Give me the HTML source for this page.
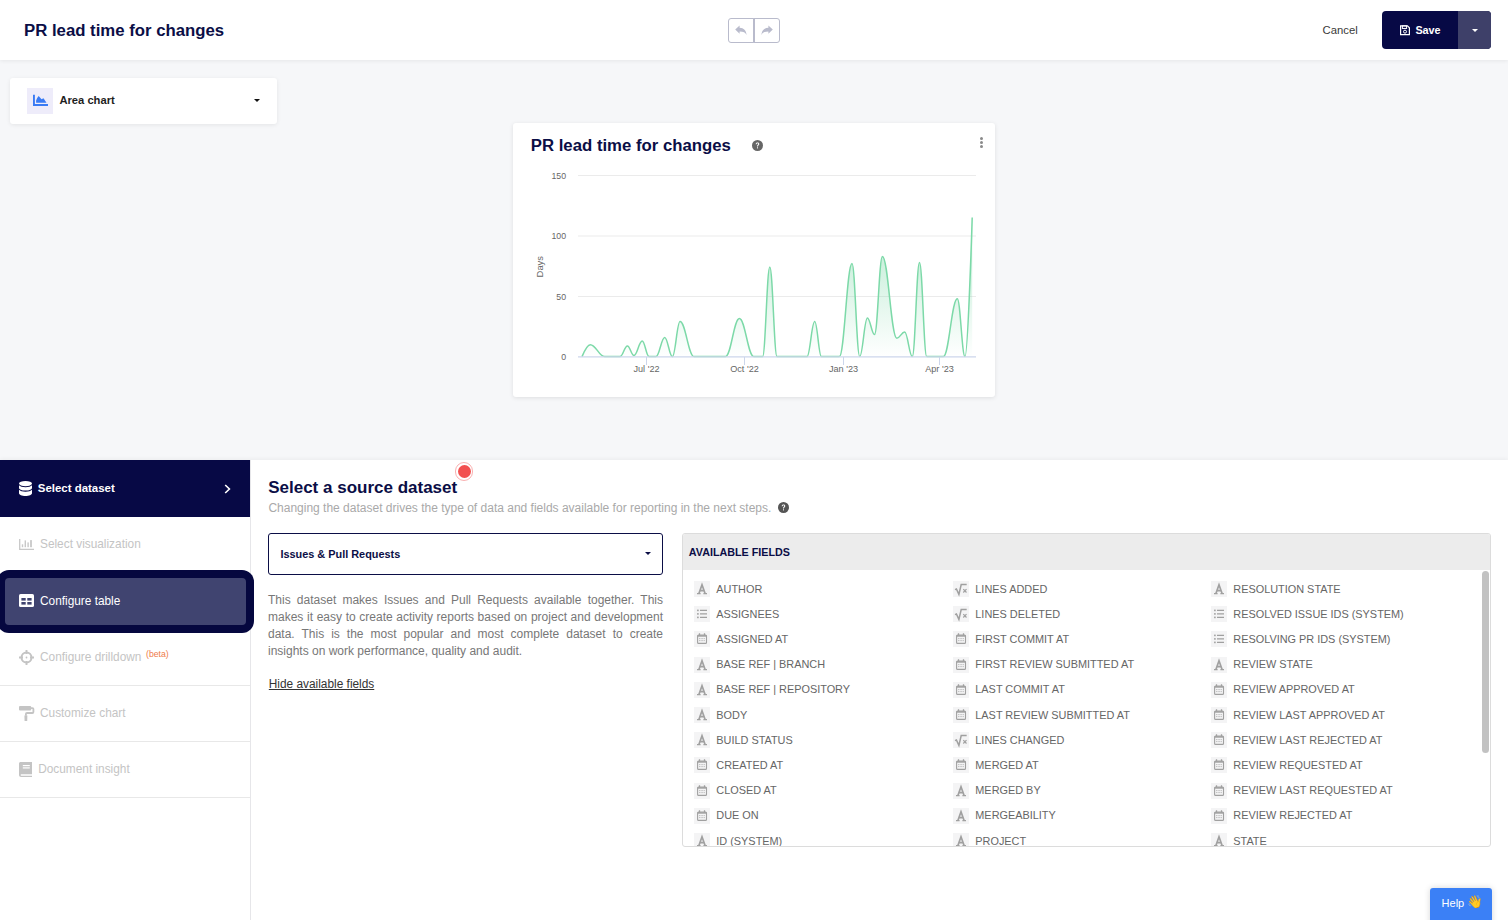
<!DOCTYPE html>
<html><head><meta charset="utf-8">
<style>
*{box-sizing:border-box;margin:0;padding:0}
html,body{width:1508px;height:920px;overflow:hidden;background:#f6f7f9;font-family:"Liberation Sans",sans-serif;position:relative}
.a{position:absolute;white-space:nowrap;line-height:1}
svg{position:absolute;overflow:visible}
</style></head><body>
<!-- HEADER -->
<div class="a" style="left:0;top:0;width:1508px;height:60px;background:#fff;box-shadow:0 1px 4px rgba(0,0,0,0.07)"></div>
<div class="a" style="left:24px;top:22.5px;font-size:16.75px;font-weight:bold;color:#0b0e46">PR lead time for changes</div>
<div class="a" style="left:728px;top:18px;width:27px;height:25px;border:1px solid #b9bbcc;border-radius:3px 0 0 3px;background:#fff"></div>
<div class="a" style="left:753px;top:18px;width:27px;height:25px;border:1px solid #b9bbcc;border-radius:0 3px 3px 0;background:#fff"></div>
<div class="a" style="left:754px;top:18px;width:1px;height:25px;background:#b9bbcc"></div>
<svg style="left:735px;top:25px" width="12" height="10" viewBox="0 0 12 10"><path d="M0.2,4.6 L4.6,0.5 L4.6,2.7 C8.8,2.9 11.2,5.4 11.6,10 C10.6,7.6 8.4,6.5 4.6,6.5 L4.6,8.7 Z" fill="#b9bbcc"/></svg>
<svg style="left:761px;top:25px" width="12" height="10" viewBox="0 0 12 10"><path d="M11.8,4.6 L7.4,0.5 L7.4,2.7 C3.2,2.9 0.8,5.4 0.4,10 C1.4,7.6 3.6,6.5 7.4,6.5 L7.4,8.7 Z" fill="#b9bbcc"/></svg>
<div class="a" style="left:1322.6px;top:25.4px;font-size:11.3px;color:#3a3a3a">Cancel</div>
<div class="a" style="left:1382px;top:11px;width:109px;height:38px;border-radius:4px;background:#070945;overflow:hidden"><div class="a" style="left:76px;top:0;width:33px;height:38px;background:#3e4069"></div></div>
<svg style="left:1400px;top:25.3px" width="10" height="10.5" viewBox="0 0 10 10"><path d="M0.6,0.6 H7.4 L9.4,2.6 V9.4 H0.6 Z" fill="none" stroke="#fff" stroke-width="1.2"/><rect x="2.4" y="0.6" width="4.2" height="2.6" fill="none" stroke="#fff" stroke-width="1"/><circle cx="5" cy="6.4" r="1.5" fill="none" stroke="#fff" stroke-width="1"/></svg>
<div class="a" style="left:1415.4px;top:24.9px;font-size:10.8px;font-weight:bold;color:#fff">Save</div>
<svg style="left:1472px;top:29px" width="6" height="3" viewBox="0 0 6 3"><path d="M0,0 H6 L3,3 Z" fill="#fff"/></svg>

<!-- CHART TYPE CARD -->
<div class="a" style="left:10px;top:78px;width:267px;height:46px;background:#fff;border-radius:3px;box-shadow:0 1px 4px rgba(0,0,0,0.08)"></div>
<div class="a" style="left:27px;top:88px;width:26px;height:26px;background:#eeecfa"></div>
<svg style="left:33px;top:94px" width="16" height="12" viewBox="0 0 16 12"><path d="M0,0.7 H1.9 V10.1 H15 V12 H0 Z" fill="#3a7bf4"/><path d="M3.1,8.8 V6.4 Q3.6,4.4 5.7,2.1 L8.5,5.3 L10.5,4.2 L13.5,8.8 Z" fill="#3a7bf4"/></svg>
<div class="a" style="left:59.4px;top:94.6px;font-size:11.2px;font-weight:bold;color:#1e1e1e">Area chart</div>
<svg style="left:254px;top:99px" width="6" height="3" viewBox="0 0 6 3"><path d="M0,0 H6 L3,3 Z" fill="#111"/></svg>

<!-- CHART CARD -->
<div class="a" style="left:513px;top:123px;width:482px;height:274px;background:#fff;border-radius:3px;box-shadow:0 1px 4px rgba(0,0,0,0.1)"></div>
<div class="a" style="left:530.8px;top:138.2px;font-size:16.75px;font-weight:bold;color:#0b0e46">PR lead time for changes</div>
<svg style="left:751.5px;top:140px" width="11" height="11" viewBox="0 0 11 11"><circle cx="5.5" cy="5.5" r="5.5" fill="#666"/><path d="M3.7,4.2 C3.7,3 4.5,2.4 5.5,2.4 C6.6,2.4 7.3,3.1 7.3,4 C7.3,5.1 6,5.3 6,6.3 V6.6 H5 V6.2 C5,4.9 6.2,4.8 6.2,4 C6.2,3.6 5.9,3.3 5.5,3.3 C5,3.3 4.7,3.7 4.7,4.2 Z" fill="#fff"/><rect x="5" y="7.3" width="1" height="1.1" fill="#fff"/></svg>
<div class="a" style="left:979.8px;top:137px;width:3px;height:3px;border-radius:50%;background:#8a8a8a"></div>
<div class="a" style="left:979.8px;top:141px;width:3px;height:3px;border-radius:50%;background:#8a8a8a"></div>
<div class="a" style="left:979.8px;top:145px;width:3px;height:3px;border-radius:50%;background:#8a8a8a"></div>
<svg style="left:0;top:0" width="1508" height="920">
<defs><linearGradient id="g" x1="0" y1="217" x2="0" y2="357" gradientUnits="userSpaceOnUse"><stop offset="0" stop-color="#7dd8a8" stop-opacity="0.55"/><stop offset="1" stop-color="#7dd8a8" stop-opacity="0"/></linearGradient></defs>
<g stroke="#ebebeb" stroke-width="1"><path d="M578,175.5 H976 M578,236 H976 M578,296.5 H976"/></g>
<path d="M582.0,356.6 C582.0,356.6 587.0,344.7 590.3,344.7 C596.1,344.7 598.9,356.6 604.7,356.6 C610.8,356.6 613.9,356.6 620.0,356.6 C623.0,356.6 624.4,345.9 627.4,345.9 C630.0,345.9 631.4,355.5 634.0,355.5 C637.3,355.5 638.9,341.0 642.2,341.0 C644.9,341.0 646.3,356.6 649.0,356.6 C651.8,356.6 653.2,356.6 656.0,356.6 C659.5,356.6 661.2,337.5 664.7,337.5 C667.8,337.5 669.3,356.6 672.4,356.6 C675.4,356.6 677.0,321.5 680.0,321.5 C685.6,321.5 688.4,356.6 694.0,356.6 C706.6,356.6 712.9,356.6 725.5,356.6 C731.1,356.6 733.8,318.4 739.4,318.4 C745.1,318.4 748.0,356.6 753.7,356.6 C757.3,356.6 759.0,356.6 762.6,356.6 C765.5,356.6 766.9,267.0 769.8,267.0 C772.7,267.0 774.1,356.6 777.0,356.6 C789.0,356.6 795.0,356.6 807.0,356.6 C810.1,356.6 811.6,321.5 814.7,321.5 C817.4,321.5 818.7,356.6 821.4,356.6 C828.6,356.6 832.2,356.6 839.4,356.6 C844.4,356.6 847.0,263.6 852.0,263.6 C855.1,263.6 856.6,356.6 859.7,356.6 C862.8,356.6 864.3,317.9 867.4,317.9 C870.2,317.9 871.7,334.6 874.5,334.6 C877.7,334.6 879.2,256.4 882.4,256.4 C888.2,256.4 891.0,338.2 896.8,338.2 C900.0,338.2 901.5,332.0 904.7,332.0 C907.7,332.0 909.3,356.6 912.3,356.6 C915.2,356.6 916.6,262.4 919.5,262.4 C922.4,262.4 923.8,356.6 926.7,356.6 C933.4,356.6 936.7,356.6 943.4,356.6 C949.0,356.6 951.7,298.8 957.3,298.8 C960.4,298.8 961.9,356.6 965.0,356.6 C967.9,356.6 972.2,217.4 972.2,217.4 L972.2,356.6 L582.0,356.6 Z" fill="url(#g)"/>
<path d="M582.0,356.6 C582.0,356.6 587.0,344.7 590.3,344.7 C596.1,344.7 598.9,356.6 604.7,356.6 C610.8,356.6 613.9,356.6 620.0,356.6 C623.0,356.6 624.4,345.9 627.4,345.9 C630.0,345.9 631.4,355.5 634.0,355.5 C637.3,355.5 638.9,341.0 642.2,341.0 C644.9,341.0 646.3,356.6 649.0,356.6 C651.8,356.6 653.2,356.6 656.0,356.6 C659.5,356.6 661.2,337.5 664.7,337.5 C667.8,337.5 669.3,356.6 672.4,356.6 C675.4,356.6 677.0,321.5 680.0,321.5 C685.6,321.5 688.4,356.6 694.0,356.6 C706.6,356.6 712.9,356.6 725.5,356.6 C731.1,356.6 733.8,318.4 739.4,318.4 C745.1,318.4 748.0,356.6 753.7,356.6 C757.3,356.6 759.0,356.6 762.6,356.6 C765.5,356.6 766.9,267.0 769.8,267.0 C772.7,267.0 774.1,356.6 777.0,356.6 C789.0,356.6 795.0,356.6 807.0,356.6 C810.1,356.6 811.6,321.5 814.7,321.5 C817.4,321.5 818.7,356.6 821.4,356.6 C828.6,356.6 832.2,356.6 839.4,356.6 C844.4,356.6 847.0,263.6 852.0,263.6 C855.1,263.6 856.6,356.6 859.7,356.6 C862.8,356.6 864.3,317.9 867.4,317.9 C870.2,317.9 871.7,334.6 874.5,334.6 C877.7,334.6 879.2,256.4 882.4,256.4 C888.2,256.4 891.0,338.2 896.8,338.2 C900.0,338.2 901.5,332.0 904.7,332.0 C907.7,332.0 909.3,356.6 912.3,356.6 C915.2,356.6 916.6,262.4 919.5,262.4 C922.4,262.4 923.8,356.6 926.7,356.6 C933.4,356.6 936.7,356.6 943.4,356.6 C949.0,356.6 951.7,298.8 957.3,298.8 C960.4,298.8 961.9,356.6 965.0,356.6 C967.9,356.6 972.2,217.4 972.2,217.4" fill="none" stroke="#7cd9a8" stroke-width="1.5"/>
<path d="M578,356.8 H976" stroke="#ccd6eb" stroke-width="1.2"/>
<path d="M646.5,357 V365 M744.5,357 V365 M843.5,357 V365 M939.5,357 V365" stroke="#ccd6eb" stroke-width="1"/>
</svg>
<div class="a" style="left:550.5px;top:171.6px;width:15.6px;text-align:right;font-size:8.75px;color:#666">150</div>
<div class="a" style="left:540.5px;top:232.1px;width:25.6px;text-align:right;font-size:8.75px;color:#666">100</div>
<div class="a" style="left:540.5px;top:292.6px;width:25.6px;text-align:right;font-size:8.75px;color:#666">50</div>
<div class="a" style="left:540.5px;top:353px;width:25.6px;text-align:right;font-size:8.75px;color:#666">0</div>
<div class="a" style="left:528.5px;top:261.5px;width:22px;text-align:center;font-size:9.4px;color:#666;transform:rotate(-90deg)">Days</div>
<div class="a" style="left:626.5px;top:364.5px;width:40px;text-align:center;font-size:9.15px;color:#666">Jul '22</div>
<div class="a" style="left:724.5px;top:364.5px;width:40px;text-align:center;font-size:9.15px;color:#666">Oct '22</div>
<div class="a" style="left:823.5px;top:364.5px;width:40px;text-align:center;font-size:9.15px;color:#666">Jan '23</div>
<div class="a" style="left:919.5px;top:364.5px;width:40px;text-align:center;font-size:9.15px;color:#666">Apr '23</div>

<!-- BOTTOM PANEL -->
<div class="a" style="left:0;top:460px;width:1508px;height:460px;background:#fff;box-shadow:0 -1px 4px rgba(0,0,0,0.05)"></div>
<div class="a" style="left:250px;top:460px;width:1px;height:460px;background:#e6e6e9"></div>
<!-- sidebar -->
<div class="a" style="left:0;top:460px;width:250px;height:57px;background:#070945"></div>
<svg style="left:19px;top:481px" width="13" height="15" viewBox="0 0 13 15"><ellipse cx="6.5" cy="2.6" rx="6.5" ry="2.6" fill="#fff"/><path d="M0,4.3 C1,5.6 3.6,6.3 6.5,6.3 C9.4,6.3 12,5.6 13,4.3 V7 C13,8.5 10.1,9.6 6.5,9.6 C2.9,9.6 0,8.5 0,7 Z" fill="#fff"/><path d="M0,8.8 C1,10.1 3.6,10.8 6.5,10.8 C9.4,10.8 12,10.1 13,8.8 V12.3 C13,13.8 10.1,15 6.5,15 C2.9,15 0,13.8 0,12.3 Z" fill="#fff"/></svg>
<div class="a" style="left:37.8px;top:482.6px;font-size:11.45px;font-weight:bold;color:#fff">Select dataset</div>
<svg style="left:224px;top:484px" width="7" height="10" viewBox="0 0 7 10"><path d="M1.2,1 L5.4,5 L1.2,9" fill="none" stroke="#fff" stroke-width="1.6"/></svg>

<svg style="left:19px;top:539px" width="15" height="11" viewBox="0 0 15 11"><path d="M0.7,0 V10.3 H15" fill="none" stroke="#c8c8c8" stroke-width="1.3"/><rect x="2.8" y="5.3" width="1.4" height="2.9" fill="#c8c8c8"/><rect x="5.6" y="1.4" width="1.4" height="6.8" fill="#c8c8c8"/><rect x="8.4" y="3.4" width="1.4" height="4.8" fill="#c8c8c8"/><rect x="11.1" y="1.1" width="1.8" height="7.1" fill="#c8c8c8"/></svg>
<div class="a" style="left:40px;top:538.8px;font-size:11.85px;color:#c4c4c4">Select visualization</div>

<div class="a" style="left:-3px;top:570px;width:257px;height:63px;background:#05073f;border-radius:12px"></div>
<div class="a" style="left:5px;top:578px;width:241px;height:47px;background:#404470;border-radius:4px"></div>
<svg style="left:19px;top:594px" width="15" height="13" viewBox="0 0 15 13"><rect x="0" y="0" width="15" height="13" rx="1.6" fill="#fff"/><rect x="2.4" y="4" width="4.3" height="2.6" fill="#404470"/><rect x="8.3" y="4" width="4.3" height="2.6" fill="#404470"/><rect x="2.4" y="8" width="4.3" height="2.6" fill="#404470"/><rect x="8.3" y="8" width="4.3" height="2.6" fill="#404470"/></svg>
<div class="a" style="left:40px;top:595.9px;font-size:11.85px;color:#fff">Configure table</div>

<svg style="left:19px;top:650px" width="15" height="15" viewBox="0 0 15 15"><circle cx="7.5" cy="7.5" r="5" fill="none" stroke="#c4c4c4" stroke-width="2"/><path d="M7.5,0 V4 M7.5,11 V15 M0,7.5 H4 M11,7.5 H15" stroke="#c4c4c4" stroke-width="1.9"/><circle cx="7.5" cy="7.5" r="0.9" fill="#c4c4c4"/></svg>
<div class="a" style="left:40px;top:651.7px;font-size:11.85px;color:#c4c4c4">Configure drilldown</div>
<div class="a" style="left:146px;top:650px;font-size:8.7px;color:#ef7a4a">(beta)</div>
<div class="a" style="left:0;top:685px;width:250px;height:1px;background:#e8e8e8"></div>

<svg style="left:19px;top:706px" width="15" height="15" viewBox="0 0 15 15"><rect x="0" y="0" width="12.2" height="4.4" rx="1" fill="#c4c4c4"/><path d="M12,2.1 H13.6 Q14.4,2.1 14.4,3 V6 Q14.4,7 13.4,7 H8 Q6.9,7 6.9,8 V9.8" fill="none" stroke="#c4c4c4" stroke-width="1.8"/><path d="M5.4,9.6 H8.4 L8.2,15 H5.6 Z" fill="#c4c4c4"/></svg>
<div class="a" style="left:40px;top:708.2px;font-size:11.85px;color:#c4c4c4">Customize chart</div>
<div class="a" style="left:0;top:741px;width:250px;height:1px;background:#e8e8e8"></div>

<svg style="left:19px;top:762px" width="13" height="15" viewBox="0 0 13 15"><path d="M1.6,0 H13 V12.2 H2.4 C1.9,12.2 1.6,12.6 1.6,13.1 C1.6,13.5 1.9,13.8 2.4,13.8 H13 V15 H2 C0.9,15 0,14.1 0,13 V1.6 C0,0.7 0.7,0 1.6,0 Z" fill="#c4c4c4"/><rect x="3.8" y="3" width="7" height="1.2" fill="#fff"/><rect x="3.8" y="5.3" width="7" height="1.2" fill="#fff"/></svg>
<div class="a" style="left:38.2px;top:764px;font-size:11.85px;color:#c4c4c4">Document insight</div>
<div class="a" style="left:0;top:797px;width:250px;height:1px;background:#e8e8e8"></div>

<!-- main -->
<div class="a" style="left:268.2px;top:478.8px;font-size:17px;font-weight:bold;color:#0b0e46">Select a source dataset</div>
<div class="a" style="left:454.6px;top:462.2px;width:18.8px;height:18.8px;border-radius:50%;border:1px solid rgba(240,80,80,0.45)"></div>
<div class="a" style="left:457.5px;top:465px;width:13px;height:13px;border-radius:50%;background:#f25050"></div>
<div class="a" style="left:268.4px;top:501.7px;font-size:12px;color:#a9a9a9">Changing the dataset drives the type of data and fields available for reporting in the next steps.</div>
<svg style="left:778.4px;top:501.6px" width="11" height="11" viewBox="0 0 11 11"><circle cx="5.5" cy="5.5" r="5.5" fill="#555"/><path d="M3.7,4.2 C3.7,3 4.5,2.4 5.5,2.4 C6.6,2.4 7.3,3.1 7.3,4 C7.3,5.1 6,5.3 6,6.3 V6.6 H5 V6.2 C5,4.9 6.2,4.8 6.2,4 C6.2,3.6 5.9,3.3 5.5,3.3 C5,3.3 4.7,3.7 4.7,4.2 Z" fill="#fff"/><rect x="5" y="7.3" width="1" height="1.1" fill="#fff"/></svg>

<div class="a" style="left:268px;top:533px;width:395px;height:42px;border:1.5px solid #0b0e46;border-radius:3px;background:#fff"></div>
<div class="a" style="left:280.4px;top:548.9px;font-size:10.9px;font-weight:bold;color:#0b0e46">Issues &amp; Pull Requests</div>
<svg style="left:645px;top:552px" width="6" height="3" viewBox="0 0 6 3"><path d="M0,0 H6 L3,3 Z" fill="#0b0e46"/></svg>

<div class="a" style="left:268px;top:591.8px;width:395px;font-size:12px;line-height:16.95px;color:#777;text-align:justify;white-space:normal">This dataset makes Issues and Pull Requests available together. This makes it easy to create activity reports based on project and development data. This is the most popular and most complete dataset to create insights on work performance, quality and audit.</div>
<div class="a" style="left:268.8px;top:678.8px;font-size:11.86px;color:#333;text-decoration:underline">Hide available fields</div>

<div class="a" style="left:682px;top:533px;width:809px;height:314px;border:1px solid #dcdcdc;border-radius:3px;background:#fff;overflow:hidden">
  <div class="a" style="left:0;top:0;width:807px;height:36px;background:#ececec"></div>
</div>
<div class="a" style="left:688.8px;top:546.8px;font-size:10.75px;font-weight:bold;color:#0b0e46">AVAILABLE FIELDS</div>
<div class="a" style="left:1482px;top:571px;width:7px;height:182px;border-radius:4px;background:#c2c2c2"></div>
<div class="a" style="left:683px;top:570px;width:798px;height:276px;overflow:hidden">
<div class="a" style="left:11px;top:11.0px;width:16px;height:16px;background:#f4f4f5"></div><svg style="left:11px;top:11.0px" width="16" height="16" viewBox="0 0 16 16"><path d="M5,12.3 L8,3.8 L11,12.3 M6.2,9.6 H9.9" fill="none" stroke="#a0a0a0" stroke-width="1.7"/><path d="M3,12.6 H6.6 M9.4,12.6 H13" stroke="#a0a0a0" stroke-width="1.1"/></svg><div class="a" style="left:33.3px;top:13.6px;font-size:10.9px;color:#666">AUTHOR</div>
<div class="a" style="left:11px;top:36.2px;width:16px;height:16px;background:#f4f4f5"></div><svg style="left:11px;top:36.2px" width="16" height="16" viewBox="0 0 16 16"><rect x="3.1" y="3.6" width="1.6" height="1.6" fill="#a0a0a0"/><rect x="3.1" y="7.1" width="1.6" height="1.6" fill="#a0a0a0"/><rect x="3.1" y="10.6" width="1.6" height="1.6" fill="#a0a0a0"/><path d="M6,4.4 H13 M6,7.9 H13 M6,11.4 H13" stroke="#a0a0a0" stroke-width="1.3"/></svg><div class="a" style="left:33.3px;top:38.8px;font-size:10.9px;color:#666">ASSIGNEES</div>
<div class="a" style="left:11px;top:61.4px;width:16px;height:16px;background:#f4f4f5"></div><svg style="left:11px;top:61.4px" width="16" height="16" viewBox="0 0 16 16"><rect x="3.6" y="4" width="8.9" height="8.4" rx="1" fill="none" stroke="#a0a0a0" stroke-width="1.1"/><path d="M3.6,4.9 H12.5" stroke="#a0a0a0" stroke-width="1.6"/><path d="M5.5,2.3 V4.6 M10.5,2.3 V4.6" stroke="#a0a0a0" stroke-width="1.3"/><path d="M5,7.6 H11 M5,9.6 H11" stroke="#b8b8b8" stroke-width="0.9" stroke-dasharray="1.1,0.5"/></svg><div class="a" style="left:33.3px;top:64.0px;font-size:10.9px;color:#666">ASSIGNED AT</div>
<div class="a" style="left:11px;top:86.6px;width:16px;height:16px;background:#f4f4f5"></div><svg style="left:11px;top:86.6px" width="16" height="16" viewBox="0 0 16 16"><path d="M5,12.3 L8,3.8 L11,12.3 M6.2,9.6 H9.9" fill="none" stroke="#a0a0a0" stroke-width="1.7"/><path d="M3,12.6 H6.6 M9.4,12.6 H13" stroke="#a0a0a0" stroke-width="1.1"/></svg><div class="a" style="left:33.3px;top:89.2px;font-size:10.9px;color:#666">BASE REF | BRANCH</div>
<div class="a" style="left:11px;top:111.8px;width:16px;height:16px;background:#f4f4f5"></div><svg style="left:11px;top:111.8px" width="16" height="16" viewBox="0 0 16 16"><path d="M5,12.3 L8,3.8 L11,12.3 M6.2,9.6 H9.9" fill="none" stroke="#a0a0a0" stroke-width="1.7"/><path d="M3,12.6 H6.6 M9.4,12.6 H13" stroke="#a0a0a0" stroke-width="1.1"/></svg><div class="a" style="left:33.3px;top:114.4px;font-size:10.9px;color:#666">BASE REF | REPOSITORY</div>
<div class="a" style="left:11px;top:137.0px;width:16px;height:16px;background:#f4f4f5"></div><svg style="left:11px;top:137.0px" width="16" height="16" viewBox="0 0 16 16"><path d="M5,12.3 L8,3.8 L11,12.3 M6.2,9.6 H9.9" fill="none" stroke="#a0a0a0" stroke-width="1.7"/><path d="M3,12.6 H6.6 M9.4,12.6 H13" stroke="#a0a0a0" stroke-width="1.1"/></svg><div class="a" style="left:33.3px;top:139.6px;font-size:10.9px;color:#666">BODY</div>
<div class="a" style="left:11px;top:162.2px;width:16px;height:16px;background:#f4f4f5"></div><svg style="left:11px;top:162.2px" width="16" height="16" viewBox="0 0 16 16"><path d="M5,12.3 L8,3.8 L11,12.3 M6.2,9.6 H9.9" fill="none" stroke="#a0a0a0" stroke-width="1.7"/><path d="M3,12.6 H6.6 M9.4,12.6 H13" stroke="#a0a0a0" stroke-width="1.1"/></svg><div class="a" style="left:33.3px;top:164.8px;font-size:10.9px;color:#666">BUILD STATUS</div>
<div class="a" style="left:11px;top:187.4px;width:16px;height:16px;background:#f4f4f5"></div><svg style="left:11px;top:187.4px" width="16" height="16" viewBox="0 0 16 16"><rect x="3.6" y="4" width="8.9" height="8.4" rx="1" fill="none" stroke="#a0a0a0" stroke-width="1.1"/><path d="M3.6,4.9 H12.5" stroke="#a0a0a0" stroke-width="1.6"/><path d="M5.5,2.3 V4.6 M10.5,2.3 V4.6" stroke="#a0a0a0" stroke-width="1.3"/><path d="M5,7.6 H11 M5,9.6 H11" stroke="#b8b8b8" stroke-width="0.9" stroke-dasharray="1.1,0.5"/></svg><div class="a" style="left:33.3px;top:190.0px;font-size:10.9px;color:#666">CREATED AT</div>
<div class="a" style="left:11px;top:212.6px;width:16px;height:16px;background:#f4f4f5"></div><svg style="left:11px;top:212.6px" width="16" height="16" viewBox="0 0 16 16"><rect x="3.6" y="4" width="8.9" height="8.4" rx="1" fill="none" stroke="#a0a0a0" stroke-width="1.1"/><path d="M3.6,4.9 H12.5" stroke="#a0a0a0" stroke-width="1.6"/><path d="M5.5,2.3 V4.6 M10.5,2.3 V4.6" stroke="#a0a0a0" stroke-width="1.3"/><path d="M5,7.6 H11 M5,9.6 H11" stroke="#b8b8b8" stroke-width="0.9" stroke-dasharray="1.1,0.5"/></svg><div class="a" style="left:33.3px;top:215.2px;font-size:10.9px;color:#666">CLOSED AT</div>
<div class="a" style="left:11px;top:237.8px;width:16px;height:16px;background:#f4f4f5"></div><svg style="left:11px;top:237.8px" width="16" height="16" viewBox="0 0 16 16"><rect x="3.6" y="4" width="8.9" height="8.4" rx="1" fill="none" stroke="#a0a0a0" stroke-width="1.1"/><path d="M3.6,4.9 H12.5" stroke="#a0a0a0" stroke-width="1.6"/><path d="M5.5,2.3 V4.6 M10.5,2.3 V4.6" stroke="#a0a0a0" stroke-width="1.3"/><path d="M5,7.6 H11 M5,9.6 H11" stroke="#b8b8b8" stroke-width="0.9" stroke-dasharray="1.1,0.5"/></svg><div class="a" style="left:33.3px;top:240.4px;font-size:10.9px;color:#666">DUE ON</div>
<div class="a" style="left:11px;top:263.0px;width:16px;height:16px;background:#f4f4f5"></div><svg style="left:11px;top:263.0px" width="16" height="16" viewBox="0 0 16 16"><path d="M5,12.3 L8,3.8 L11,12.3 M6.2,9.6 H9.9" fill="none" stroke="#a0a0a0" stroke-width="1.7"/><path d="M3,12.6 H6.6 M9.4,12.6 H13" stroke="#a0a0a0" stroke-width="1.1"/></svg><div class="a" style="left:33.3px;top:265.6px;font-size:10.9px;color:#666">ID (SYSTEM)</div>
<div class="a" style="left:270px;top:11.0px;width:16px;height:16px;background:#f4f4f5"></div><svg style="left:270px;top:11.0px" width="16" height="16" viewBox="0 0 16 16"><path d="M2,8.6 L3.4,8 L5.9,13.4 L8.2,3.6 H13.7" fill="none" stroke="#a0a0a0" stroke-width="1.5"/><path d="M10.3,8.2 L13.5,11.5 M13.5,8.2 L10.3,11.5" stroke="#a0a0a0" stroke-width="1.2"/></svg><div class="a" style="left:292.3px;top:13.6px;font-size:10.9px;color:#666">LINES ADDED</div>
<div class="a" style="left:270px;top:36.2px;width:16px;height:16px;background:#f4f4f5"></div><svg style="left:270px;top:36.2px" width="16" height="16" viewBox="0 0 16 16"><path d="M2,8.6 L3.4,8 L5.9,13.4 L8.2,3.6 H13.7" fill="none" stroke="#a0a0a0" stroke-width="1.5"/><path d="M10.3,8.2 L13.5,11.5 M13.5,8.2 L10.3,11.5" stroke="#a0a0a0" stroke-width="1.2"/></svg><div class="a" style="left:292.3px;top:38.8px;font-size:10.9px;color:#666">LINES DELETED</div>
<div class="a" style="left:270px;top:61.4px;width:16px;height:16px;background:#f4f4f5"></div><svg style="left:270px;top:61.4px" width="16" height="16" viewBox="0 0 16 16"><rect x="3.6" y="4" width="8.9" height="8.4" rx="1" fill="none" stroke="#a0a0a0" stroke-width="1.1"/><path d="M3.6,4.9 H12.5" stroke="#a0a0a0" stroke-width="1.6"/><path d="M5.5,2.3 V4.6 M10.5,2.3 V4.6" stroke="#a0a0a0" stroke-width="1.3"/><path d="M5,7.6 H11 M5,9.6 H11" stroke="#b8b8b8" stroke-width="0.9" stroke-dasharray="1.1,0.5"/></svg><div class="a" style="left:292.3px;top:64.0px;font-size:10.9px;color:#666">FIRST COMMIT AT</div>
<div class="a" style="left:270px;top:86.6px;width:16px;height:16px;background:#f4f4f5"></div><svg style="left:270px;top:86.6px" width="16" height="16" viewBox="0 0 16 16"><rect x="3.6" y="4" width="8.9" height="8.4" rx="1" fill="none" stroke="#a0a0a0" stroke-width="1.1"/><path d="M3.6,4.9 H12.5" stroke="#a0a0a0" stroke-width="1.6"/><path d="M5.5,2.3 V4.6 M10.5,2.3 V4.6" stroke="#a0a0a0" stroke-width="1.3"/><path d="M5,7.6 H11 M5,9.6 H11" stroke="#b8b8b8" stroke-width="0.9" stroke-dasharray="1.1,0.5"/></svg><div class="a" style="left:292.3px;top:89.2px;font-size:10.9px;color:#666">FIRST REVIEW SUBMITTED AT</div>
<div class="a" style="left:270px;top:111.8px;width:16px;height:16px;background:#f4f4f5"></div><svg style="left:270px;top:111.8px" width="16" height="16" viewBox="0 0 16 16"><rect x="3.6" y="4" width="8.9" height="8.4" rx="1" fill="none" stroke="#a0a0a0" stroke-width="1.1"/><path d="M3.6,4.9 H12.5" stroke="#a0a0a0" stroke-width="1.6"/><path d="M5.5,2.3 V4.6 M10.5,2.3 V4.6" stroke="#a0a0a0" stroke-width="1.3"/><path d="M5,7.6 H11 M5,9.6 H11" stroke="#b8b8b8" stroke-width="0.9" stroke-dasharray="1.1,0.5"/></svg><div class="a" style="left:292.3px;top:114.4px;font-size:10.9px;color:#666">LAST COMMIT AT</div>
<div class="a" style="left:270px;top:137.0px;width:16px;height:16px;background:#f4f4f5"></div><svg style="left:270px;top:137.0px" width="16" height="16" viewBox="0 0 16 16"><rect x="3.6" y="4" width="8.9" height="8.4" rx="1" fill="none" stroke="#a0a0a0" stroke-width="1.1"/><path d="M3.6,4.9 H12.5" stroke="#a0a0a0" stroke-width="1.6"/><path d="M5.5,2.3 V4.6 M10.5,2.3 V4.6" stroke="#a0a0a0" stroke-width="1.3"/><path d="M5,7.6 H11 M5,9.6 H11" stroke="#b8b8b8" stroke-width="0.9" stroke-dasharray="1.1,0.5"/></svg><div class="a" style="left:292.3px;top:139.6px;font-size:10.9px;color:#666">LAST REVIEW SUBMITTED AT</div>
<div class="a" style="left:270px;top:162.2px;width:16px;height:16px;background:#f4f4f5"></div><svg style="left:270px;top:162.2px" width="16" height="16" viewBox="0 0 16 16"><path d="M2,8.6 L3.4,8 L5.9,13.4 L8.2,3.6 H13.7" fill="none" stroke="#a0a0a0" stroke-width="1.5"/><path d="M10.3,8.2 L13.5,11.5 M13.5,8.2 L10.3,11.5" stroke="#a0a0a0" stroke-width="1.2"/></svg><div class="a" style="left:292.3px;top:164.8px;font-size:10.9px;color:#666">LINES CHANGED</div>
<div class="a" style="left:270px;top:187.4px;width:16px;height:16px;background:#f4f4f5"></div><svg style="left:270px;top:187.4px" width="16" height="16" viewBox="0 0 16 16"><rect x="3.6" y="4" width="8.9" height="8.4" rx="1" fill="none" stroke="#a0a0a0" stroke-width="1.1"/><path d="M3.6,4.9 H12.5" stroke="#a0a0a0" stroke-width="1.6"/><path d="M5.5,2.3 V4.6 M10.5,2.3 V4.6" stroke="#a0a0a0" stroke-width="1.3"/><path d="M5,7.6 H11 M5,9.6 H11" stroke="#b8b8b8" stroke-width="0.9" stroke-dasharray="1.1,0.5"/></svg><div class="a" style="left:292.3px;top:190.0px;font-size:10.9px;color:#666">MERGED AT</div>
<div class="a" style="left:270px;top:212.6px;width:16px;height:16px;background:#f4f4f5"></div><svg style="left:270px;top:212.6px" width="16" height="16" viewBox="0 0 16 16"><path d="M5,12.3 L8,3.8 L11,12.3 M6.2,9.6 H9.9" fill="none" stroke="#a0a0a0" stroke-width="1.7"/><path d="M3,12.6 H6.6 M9.4,12.6 H13" stroke="#a0a0a0" stroke-width="1.1"/></svg><div class="a" style="left:292.3px;top:215.2px;font-size:10.9px;color:#666">MERGED BY</div>
<div class="a" style="left:270px;top:237.8px;width:16px;height:16px;background:#f4f4f5"></div><svg style="left:270px;top:237.8px" width="16" height="16" viewBox="0 0 16 16"><path d="M5,12.3 L8,3.8 L11,12.3 M6.2,9.6 H9.9" fill="none" stroke="#a0a0a0" stroke-width="1.7"/><path d="M3,12.6 H6.6 M9.4,12.6 H13" stroke="#a0a0a0" stroke-width="1.1"/></svg><div class="a" style="left:292.3px;top:240.4px;font-size:10.9px;color:#666">MERGEABILITY</div>
<div class="a" style="left:270px;top:263.0px;width:16px;height:16px;background:#f4f4f5"></div><svg style="left:270px;top:263.0px" width="16" height="16" viewBox="0 0 16 16"><path d="M5,12.3 L8,3.8 L11,12.3 M6.2,9.6 H9.9" fill="none" stroke="#a0a0a0" stroke-width="1.7"/><path d="M3,12.6 H6.6 M9.4,12.6 H13" stroke="#a0a0a0" stroke-width="1.1"/></svg><div class="a" style="left:292.3px;top:265.6px;font-size:10.9px;color:#666">PROJECT</div>
<div class="a" style="left:528px;top:11.0px;width:16px;height:16px;background:#f4f4f5"></div><svg style="left:528px;top:11.0px" width="16" height="16" viewBox="0 0 16 16"><path d="M5,12.3 L8,3.8 L11,12.3 M6.2,9.6 H9.9" fill="none" stroke="#a0a0a0" stroke-width="1.7"/><path d="M3,12.6 H6.6 M9.4,12.6 H13" stroke="#a0a0a0" stroke-width="1.1"/></svg><div class="a" style="left:550.3px;top:13.6px;font-size:10.9px;color:#666">RESOLUTION STATE</div>
<div class="a" style="left:528px;top:36.2px;width:16px;height:16px;background:#f4f4f5"></div><svg style="left:528px;top:36.2px" width="16" height="16" viewBox="0 0 16 16"><rect x="3.1" y="3.6" width="1.6" height="1.6" fill="#a0a0a0"/><rect x="3.1" y="7.1" width="1.6" height="1.6" fill="#a0a0a0"/><rect x="3.1" y="10.6" width="1.6" height="1.6" fill="#a0a0a0"/><path d="M6,4.4 H13 M6,7.9 H13 M6,11.4 H13" stroke="#a0a0a0" stroke-width="1.3"/></svg><div class="a" style="left:550.3px;top:38.8px;font-size:10.9px;color:#666">RESOLVED ISSUE IDS (SYSTEM)</div>
<div class="a" style="left:528px;top:61.4px;width:16px;height:16px;background:#f4f4f5"></div><svg style="left:528px;top:61.4px" width="16" height="16" viewBox="0 0 16 16"><rect x="3.1" y="3.6" width="1.6" height="1.6" fill="#a0a0a0"/><rect x="3.1" y="7.1" width="1.6" height="1.6" fill="#a0a0a0"/><rect x="3.1" y="10.6" width="1.6" height="1.6" fill="#a0a0a0"/><path d="M6,4.4 H13 M6,7.9 H13 M6,11.4 H13" stroke="#a0a0a0" stroke-width="1.3"/></svg><div class="a" style="left:550.3px;top:64.0px;font-size:10.9px;color:#666">RESOLVING PR IDS (SYSTEM)</div>
<div class="a" style="left:528px;top:86.6px;width:16px;height:16px;background:#f4f4f5"></div><svg style="left:528px;top:86.6px" width="16" height="16" viewBox="0 0 16 16"><path d="M5,12.3 L8,3.8 L11,12.3 M6.2,9.6 H9.9" fill="none" stroke="#a0a0a0" stroke-width="1.7"/><path d="M3,12.6 H6.6 M9.4,12.6 H13" stroke="#a0a0a0" stroke-width="1.1"/></svg><div class="a" style="left:550.3px;top:89.2px;font-size:10.9px;color:#666">REVIEW STATE</div>
<div class="a" style="left:528px;top:111.8px;width:16px;height:16px;background:#f4f4f5"></div><svg style="left:528px;top:111.8px" width="16" height="16" viewBox="0 0 16 16"><rect x="3.6" y="4" width="8.9" height="8.4" rx="1" fill="none" stroke="#a0a0a0" stroke-width="1.1"/><path d="M3.6,4.9 H12.5" stroke="#a0a0a0" stroke-width="1.6"/><path d="M5.5,2.3 V4.6 M10.5,2.3 V4.6" stroke="#a0a0a0" stroke-width="1.3"/><path d="M5,7.6 H11 M5,9.6 H11" stroke="#b8b8b8" stroke-width="0.9" stroke-dasharray="1.1,0.5"/></svg><div class="a" style="left:550.3px;top:114.4px;font-size:10.9px;color:#666">REVIEW APPROVED AT</div>
<div class="a" style="left:528px;top:137.0px;width:16px;height:16px;background:#f4f4f5"></div><svg style="left:528px;top:137.0px" width="16" height="16" viewBox="0 0 16 16"><rect x="3.6" y="4" width="8.9" height="8.4" rx="1" fill="none" stroke="#a0a0a0" stroke-width="1.1"/><path d="M3.6,4.9 H12.5" stroke="#a0a0a0" stroke-width="1.6"/><path d="M5.5,2.3 V4.6 M10.5,2.3 V4.6" stroke="#a0a0a0" stroke-width="1.3"/><path d="M5,7.6 H11 M5,9.6 H11" stroke="#b8b8b8" stroke-width="0.9" stroke-dasharray="1.1,0.5"/></svg><div class="a" style="left:550.3px;top:139.6px;font-size:10.9px;color:#666">REVIEW LAST APPROVED AT</div>
<div class="a" style="left:528px;top:162.2px;width:16px;height:16px;background:#f4f4f5"></div><svg style="left:528px;top:162.2px" width="16" height="16" viewBox="0 0 16 16"><rect x="3.6" y="4" width="8.9" height="8.4" rx="1" fill="none" stroke="#a0a0a0" stroke-width="1.1"/><path d="M3.6,4.9 H12.5" stroke="#a0a0a0" stroke-width="1.6"/><path d="M5.5,2.3 V4.6 M10.5,2.3 V4.6" stroke="#a0a0a0" stroke-width="1.3"/><path d="M5,7.6 H11 M5,9.6 H11" stroke="#b8b8b8" stroke-width="0.9" stroke-dasharray="1.1,0.5"/></svg><div class="a" style="left:550.3px;top:164.8px;font-size:10.9px;color:#666">REVIEW LAST REJECTED AT</div>
<div class="a" style="left:528px;top:187.4px;width:16px;height:16px;background:#f4f4f5"></div><svg style="left:528px;top:187.4px" width="16" height="16" viewBox="0 0 16 16"><rect x="3.6" y="4" width="8.9" height="8.4" rx="1" fill="none" stroke="#a0a0a0" stroke-width="1.1"/><path d="M3.6,4.9 H12.5" stroke="#a0a0a0" stroke-width="1.6"/><path d="M5.5,2.3 V4.6 M10.5,2.3 V4.6" stroke="#a0a0a0" stroke-width="1.3"/><path d="M5,7.6 H11 M5,9.6 H11" stroke="#b8b8b8" stroke-width="0.9" stroke-dasharray="1.1,0.5"/></svg><div class="a" style="left:550.3px;top:190.0px;font-size:10.9px;color:#666">REVIEW REQUESTED AT</div>
<div class="a" style="left:528px;top:212.6px;width:16px;height:16px;background:#f4f4f5"></div><svg style="left:528px;top:212.6px" width="16" height="16" viewBox="0 0 16 16"><rect x="3.6" y="4" width="8.9" height="8.4" rx="1" fill="none" stroke="#a0a0a0" stroke-width="1.1"/><path d="M3.6,4.9 H12.5" stroke="#a0a0a0" stroke-width="1.6"/><path d="M5.5,2.3 V4.6 M10.5,2.3 V4.6" stroke="#a0a0a0" stroke-width="1.3"/><path d="M5,7.6 H11 M5,9.6 H11" stroke="#b8b8b8" stroke-width="0.9" stroke-dasharray="1.1,0.5"/></svg><div class="a" style="left:550.3px;top:215.2px;font-size:10.9px;color:#666">REVIEW LAST REQUESTED AT</div>
<div class="a" style="left:528px;top:237.8px;width:16px;height:16px;background:#f4f4f5"></div><svg style="left:528px;top:237.8px" width="16" height="16" viewBox="0 0 16 16"><rect x="3.6" y="4" width="8.9" height="8.4" rx="1" fill="none" stroke="#a0a0a0" stroke-width="1.1"/><path d="M3.6,4.9 H12.5" stroke="#a0a0a0" stroke-width="1.6"/><path d="M5.5,2.3 V4.6 M10.5,2.3 V4.6" stroke="#a0a0a0" stroke-width="1.3"/><path d="M5,7.6 H11 M5,9.6 H11" stroke="#b8b8b8" stroke-width="0.9" stroke-dasharray="1.1,0.5"/></svg><div class="a" style="left:550.3px;top:240.4px;font-size:10.9px;color:#666">REVIEW REJECTED AT</div>
<div class="a" style="left:528px;top:263.0px;width:16px;height:16px;background:#f4f4f5"></div><svg style="left:528px;top:263.0px" width="16" height="16" viewBox="0 0 16 16"><path d="M5,12.3 L8,3.8 L11,12.3 M6.2,9.6 H9.9" fill="none" stroke="#a0a0a0" stroke-width="1.7"/><path d="M3,12.6 H6.6 M9.4,12.6 H13" stroke="#a0a0a0" stroke-width="1.1"/></svg><div class="a" style="left:550.3px;top:265.6px;font-size:10.9px;color:#666">STATE</div>
</div>
<div class="a" style="left:1430px;top:888px;width:62px;height:40px;background:#3b80f6;border-radius:3px;box-shadow:0 0 6px rgba(0,0,0,0.16)"></div>
<div class="a" style="left:1441.6px;top:898px;font-size:11px;color:#fff">Help</div>
<div class="a" style="left:1467.3px;top:896px;font-size:12.6px;color:#f2b233">&#x1F44B;</div>

</body></html>
